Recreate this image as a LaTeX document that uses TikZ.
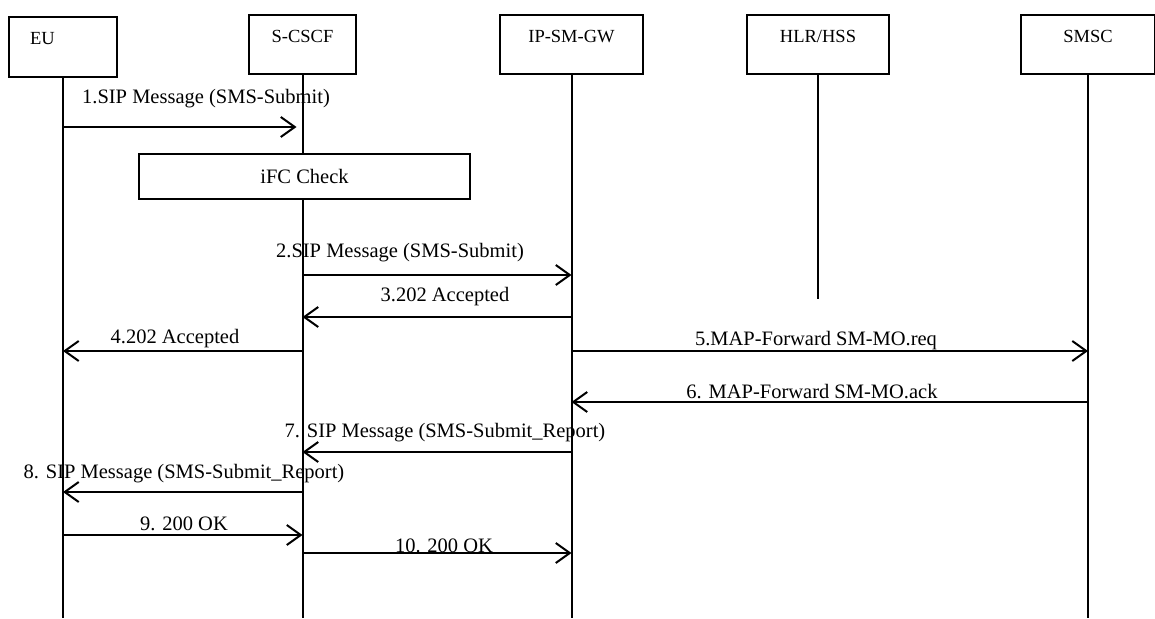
\documentclass[tikz,border=0pt]{standalone}
\usepackage{fontspec}
\setmainfont{Liberation Serif}
\usetikzlibrary{arrows.meta}
\begin{document}
\begin{tikzpicture}[x=1pt,y=1pt,
  hbox/.style={draw, line width=1.3pt, inner sep=0pt, minimum height=59pt,
               text height=27.5pt, text depth=31.5pt, font=\fontsize{18.5}{22}\selectfont},
  life/.style={line width=2pt},
  msg/.style={line width=2pt, -{Straight Barb[length=14pt,width=20pt]}},
  lbl/.style={font=\fontsize{20.5}{24}\selectfont, inner sep=0pt},
  procbox/.style={draw, line width=1.3pt, fill=white, minimum width=331pt, minimum height=45pt,
               inner sep=0pt, font=\fontsize{20.5}{24}\selectfont}]
\useasboundingbox (0,0) rectangle (1155,-618);

% header boxes
\node[hbox, minimum width=108pt, minimum height=60pt, text width=66pt, align=left,
      text height=27.5pt, text depth=32.5pt] (eu) at (63,-47) {EU};
\node[hbox, minimum width=107pt] (scscf) at (302.5,-44.5) {S-CSCF};
\node[hbox, minimum width=143pt] (ipsm) at (571.5,-44.5) {IP-SM-GW};
\node[hbox, minimum width=142pt] (hlr) at (818,-44.5) {HLR/HSS};
\node[hbox, minimum width=134pt] (smsc) at (1088,-44.5) {SMSC};

% lifeline ends
\coordinate (bottom) at (0,-618);
\coordinate (hlrend) at (0,-299);
\draw[life] (eu.south) -- (eu |- bottom);
\draw[life] (scscf.south) -- (scscf |- bottom);
\draw[life] (ipsm.south) -- (ipsm |- bottom);
\draw[life] (hlr.south) -- (hlr |- hlrend);
\draw[life] (smsc.south) -- (smsc |- bottom);

% iFC check
\node[procbox] (ifc) at (304.5,-176.5) {iFC Check};

% message rows
\coordinate (y1) at (0,-127);
\coordinate (y2) at (0,-275);
\coordinate (y3) at (0,-317);
\coordinate (y4) at (0,-351);
\coordinate (y5) at (0,-351);
\coordinate (y6) at (0,-402);
\coordinate (y7) at (0,-452);
\coordinate (y8) at (0,-492);
\coordinate (y9) at (0,-535);
\coordinate (y10) at (0,-553);

\draw[msg] (eu |- y1) -- ([xshift=-6pt]scscf |- y1);
\draw[msg] (scscf |- y2) -- (ipsm |- y2);
\draw[msg] (ipsm |- y3) -- (scscf |- y3);
\draw[msg] (scscf |- y4) -- (eu |- y4);
\draw[msg] (ipsm |- y5) -- (smsc |- y5);
\draw[msg] (smsc |- y6) -- (ipsm |- y6);
\draw[msg] (ipsm |- y7) -- (scscf |- y7);
\draw[msg] (scscf |- y8) -- (eu |- y8);
\draw[msg] (eu |- y9) -- (scscf |- y9);
\draw[msg] (scscf |- y10) -- (ipsm |- y10);

% labels
\node[lbl] (l1) at (206,-99) {1.SIP Message (SMS-Submit)};
\node[lbl] (l2) at (400,-253) {2.SIP Message (SMS-Submit)};
\node[lbl] (l3) at (445,-297) {3.202 Accepted};
\node[lbl] (l4) at (175,-339) {4.202 Accepted};
\node[lbl] (l5) at (816,-341) {5.MAP-Forward SM-MO.req};
\node[lbl] (l6) at (812,-392) {6. MAP-Forward SM-MO.ack};
\node[lbl] (l7) at (445,-433) {7. SIP Message (SMS-Submit\_Report)};
\node[lbl] (l8) at (184,-474) {8. SIP Message (SMS-Submit\_Report)};
\node[lbl] (l9) at (184,-524) {9. 200 OK};
\node[lbl] (l10) at (444,-546) {10. 200 OK};
\end{tikzpicture}
\end{document}
